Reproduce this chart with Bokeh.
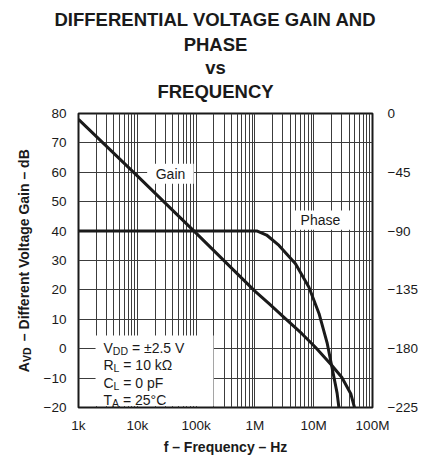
import math
from bokeh.plotting import figure
from bokeh.layouts import column, row
from bokeh.models import Range1d, LinearAxis, FixedTicker, Label, BoxAnnotation
from bokeh.embed import file_html
from bokeh.resources import INLINE

# ---------------- data ----------------
title_lines = ["DIFFERENTIAL VOLTAGE GAIN AND", "PHASE", "vs", "FREQUENCY"]
freq_ticks = [1e3, 1e4, 1e5, 1e6, 1e7, 1e8]
freq_tick_labels = ["1k", "10k", "100k", "1M", "10M", "100M"]
gain_ticks = [-20, -10, 0, 10, 20, 30, 40, 50, 60, 70, 80]
phase_ticks = [-225, -180, -135, -90, -45, 0]

gain_freq_hz = [1e3, 1e4, 1e5, 1e6, 1.74e6, 3.16e6, 6.3e6, 1.07e7, 2.04e7, 3.0e7, 4.27e7, 5.0e7]
gain_db = [78, 58.8, 39.3, 19.6, 15.3, 10.6, 5.1, 0.5, -5.7, -9.7, -15.3, -20.4]

phase_freq_hz = [1e3, 1.1e6, 1.58e6, 2.57e6, 4.9e6, 8.3e6, 1.23e7, 1.7e7, 2.04e7, 2.5e7, 2.7e7]
phase_deg = [-90, -90, -93, -101, -115, -133, -153, -176, -194, -214, -226]

cond_symbols = ["V", "R", "C", "T"]
cond_subs = ["DD", "L", "L", "A"]
cond_rest = ["= \u00b12.5 V", "= 10 k\u03a9", "= 0 pF", "= 25\u00b0C"]

x_label = "f \u2013 Frequency \u2013 Hz"
y_label_parts = ["A", "VD", "\u2013 Different Voltage Gain \u2013 dB"]

FONT = "Liberation Sans"
INK = "#1a1a1a"
GRID = "#3c3c3c"

minor_x = [k * 10 ** d for d in range(3, 8) for k in range(2, 10)]


def blank_fig(w, h):
    f = figure(width=w, height=h, x_range=Range1d(0, 1), y_range=Range1d(0, 1),
               x_axis_location=None, y_axis_location=None,
               min_border_left=0, min_border_right=0, min_border_top=0, min_border_bottom=0,
               output_backend="svg", toolbar_location=None)
    f.title.visible = False
    f.grid.visible = False
    f.outline_line_color = None
    f.background_fill_color = "white"
    f.border_fill_color = "white"
    return f


# ---------------- title panel ----------------
tf = blank_fig(423, 104)
for txt, yy in zip(title_lines, [84.7, 59.7, 37.4, 13.3]):
    tf.add_layout(Label(x=215, y=yy, x_units="screen", y_units="screen", text=txt,
                        text_align="center", text_baseline="middle", text_font=FONT,
                        text_font_style="bold", text_font_size="18.5px", text_color=INK))

# ---------------- y label panel (its frame lines up with the chart frame) ----------------
yf = blank_fig(40, 352)
ylx = 23
ylen = [10.1, 14.6, 3.9, 196.8]
ystart = 147 - sum(ylen) / 2
yc_a = ystart + ylen[0] / 2
yc_sub = ystart + ylen[0] + ylen[1] / 2
yc_rest = ystart + ylen[0] + ylen[1] + ylen[2] + ylen[3] / 2
for txt, xx, yy, size in [(y_label_parts[0], ylx, yc_a, "14px"),
                          (y_label_parts[1], ylx + 3.5, yc_sub, "10.5px"),
                          (y_label_parts[2], ylx, yc_rest, "14px")]:
    yf.add_layout(Label(x=xx, y=yy, x_units="screen", y_units="screen", text=txt,
                        angle=math.pi / 2, text_align="center", text_baseline="middle",
                        text_font=FONT, text_font_style="bold", text_font_size=size,
                        text_color=INK))

# ---------------- main chart ----------------
p = figure(x_axis_type="log", x_range=Range1d(1e3, 1e8), y_range=Range1d(-20, 80),
           frame_width=294, frame_height=294,
           min_border_left=33, min_border_right=56, min_border_top=9, min_border_bottom=49,
           output_backend="svg", toolbar_location=None)
p.title.visible = False
p.background_fill_color = "white"
p.border_fill_color = "white"
p.outline_line_color = INK
p.outline_line_width = 2

p.extra_y_ranges = {"phase": Range1d(-225, 0)}


def minus(v):
    return str(v).replace("-", "\u2212")


p.xaxis.ticker = FixedTicker(ticks=freq_ticks, minor_ticks=minor_x)
p.xaxis.major_label_overrides = dict(zip(freq_ticks, freq_tick_labels))
p.xaxis.axis_label = x_label
p.xaxis.axis_label_text_font = FONT
p.xaxis.axis_label_text_font_style = "bold"
p.xaxis.axis_label_text_font_size = "14px"
p.xaxis.axis_label_text_color = INK
p.xaxis.axis_label_standoff = 3
p.xaxis.major_label_standoff = 4

p.yaxis.ticker = FixedTicker(ticks=gain_ticks)
p.yaxis.major_label_overrides = {t: minus(t) for t in gain_ticks}
p.yaxis.major_label_standoff = 6

ax_r = LinearAxis(y_range_name="phase", ticker=FixedTicker(ticks=phase_ticks),
                  major_label_overrides={t: minus(t) for t in phase_ticks})
ax_r.major_label_standoff = 9
p.add_layout(ax_r, "right")

for ax in [p.xaxis[0], p.yaxis[0], ax_r]:
    ax.axis_line_color = None
    ax.major_tick_line_color = None
    ax.minor_tick_line_color = None
    ax.major_label_text_font = FONT
    ax.major_label_text_font_size = "13.5px"
    ax.major_label_text_color = INK

p.xgrid.ticker = p.xaxis[0].ticker
p.xgrid.grid_line_color = GRID
p.xgrid.grid_line_width = 1
p.xgrid.minor_grid_line_color = GRID
p.xgrid.minor_grid_line_width = 1
p.ygrid.ticker = FixedTicker(ticks=gain_ticks)
p.ygrid.grid_line_color = GRID
p.ygrid.grid_line_width = 1

# white boxes under the labels (cover the grid)
for l, r, b, t in [(1.95e3, 1.98e5, -19.5, 4.5),
                   (1.47e4, 9.1e4, 56.1, 62.9),
                   (4.3e6, 4.2e7, 40.5, 47.0)]:
    p.add_layout(BoxAnnotation(left=l, right=r, bottom=b, top=t, fill_color="white",
                               fill_alpha=1, line_color=None, level="underlay"))

p.line(gain_freq_hz, gain_db, line_color=INK, line_width=3)
p.line(phase_freq_hz, phase_deg, line_color=INK, line_width=3, y_range_name="phase")

p.add_layout(Label(x=3.67e4, y=59.5, text="Gain", text_align="center", text_baseline="middle",
                   text_font=FONT, text_font_size="14px", text_color=INK))
p.add_layout(Label(x=1.3e7, y=43.7, text="Phase", text_align="center", text_baseline="middle",
                   text_font=FONT, text_font_size="14px", text_color=INK))

sym_w = {"V": 9.34, "R": 10.1, "C": 10.1, "T": 8.55}
sub_w = {"DD": 15.2, "L": 5.8, "A": 7.0}
space_w = 3.9
cx = 25
for i, (s, sub, rest) in enumerate(zip(cond_symbols, cond_subs, cond_rest)):
    base = 59.5 - i * 17.3
    p.add_layout(Label(x=cx, y=base, x_units="screen", y_units="screen", text=s,
                       text_align="left", text_baseline="alphabetic", text_font=FONT,
                       text_font_size="14px", text_color=INK))
    p.add_layout(Label(x=cx + sym_w[s], y=base - 3, x_units="screen", y_units="screen", text=sub,
                       text_align="left", text_baseline="alphabetic", text_font=FONT,
                       text_font_size="10.5px", text_color=INK))
    p.add_layout(Label(x=cx + sym_w[s] + sub_w[sub] + space_w, y=base, x_units="screen",
                       y_units="screen", text=rest, text_align="left",
                       text_baseline="alphabetic", text_font=FONT,
                       text_font_size="14px", text_color=INK))

layout = column(tf, row(yf, p))
open("out.html", "w").write(file_html(layout, INLINE))
